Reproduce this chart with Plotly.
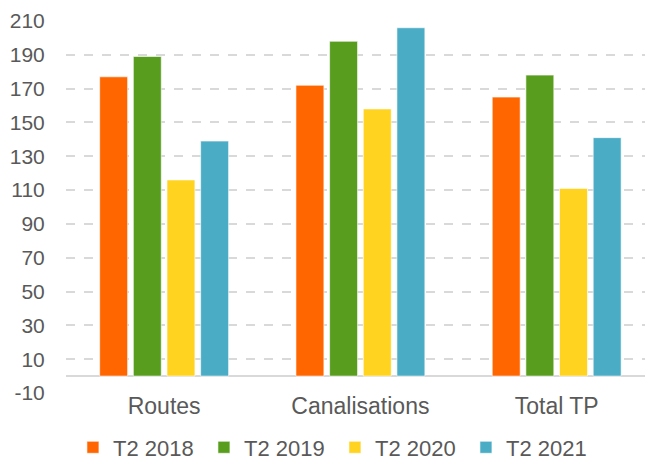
import plotly.graph_objects as go

categories = ["Routes", "Canalisations", "Total TP"]
series_names = ["T2 2018", "T2 2019", "T2 2020", "T2 2021"]
values_2018 = [177, 172, 165]
values_2019 = [189, 198, 178]
values_2020 = [116, 158, 111]
values_2021 = [139, 206, 141]
series_values = [values_2018, values_2019, values_2020, values_2021]
colors = ["#FF6600", "#589D1E", "#FFD320", "#4BACC6"]
tick_values = list(range(-10, 211, 20))
tick_labels = [str(v) for v in tick_values]

fig = go.Figure()
for name, vals, col in zip(series_names, series_values, colors):
    fig.add_trace(go.Bar(
        x=categories, y=vals, name=name,
        marker=dict(color=col, line=dict(color="rgba(255,255,255,0.6)", width=1)),
    ))

font_family = "Liberation Sans, Arial, sans-serif"
fig.update_layout(
    width=645, height=490,
    margin=dict(l=66, r=0, t=21, b=97, pad=0),
    paper_bgcolor="white", plot_bgcolor="white",
    barmode="group", bargap=0.314, bargroupgap=0.17,
    font=dict(family=font_family, color="#595959"),
    showlegend=True,
    legend=dict(orientation="h", x=0.012, xanchor="left", y=-0.09, yanchor="top",
                font=dict(size=22, color="#595959"), itemwidth=30,
                entrywidth=86, entrywidthmode="pixels", traceorder="normal"),
    xaxis=dict(range=[-0.5, 2.45], showgrid=False, showline=False, ticks="",
               automargin=False, ticklabelstandoff=-3,
               tickfont=dict(size=23, color="#595959")),
    yaxis=dict(range=[-10, 210], tickvals=tick_values, ticktext=tick_labels,
               showgrid=True, automargin=False,
               gridcolor="#D9D9D9", griddash="dash", gridwidth=1.5,
               zeroline=True, zerolinecolor="#D9D9D9", zerolinewidth=2,
               showline=False, ticks="outside", ticklen=16, tickcolor="rgba(0,0,0,0)",
               tickfont=dict(size=21, color="#595959")),
)

fig.write_html(
    "out.html",
    config={"displayModeBar": False},
    post_script="document.body.style.margin='0';document.body.style.overflow='hidden';",
)
